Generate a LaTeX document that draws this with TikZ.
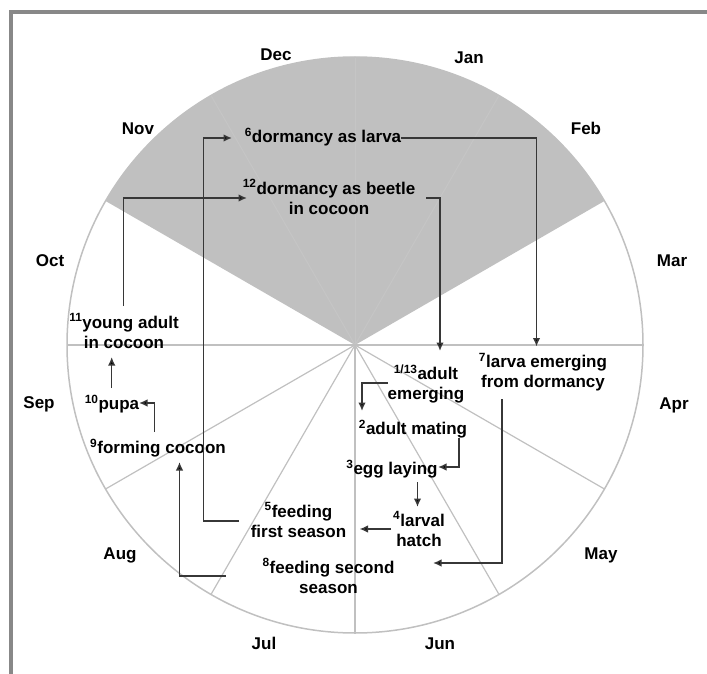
\documentclass[tikz,border=0pt]{standalone}
\usepackage{fontspec}
\setmainfont{Liberation Sans}
\usetikzlibrary{positioning,calc,arrows.meta}
\definecolor{framegray}{RGB}{136,136,136}
\definecolor{wheelgray}{RGB}{192,192,192}
\definecolor{spokegray}{RGB}{197,197,197}
\definecolor{linkgray}{RGB}{55,55,55}
\newcommand\stagenr[1]{\textsuperscript{#1}}

\begin{document}
\begin{tikzpicture}[x=1pt,y=-1pt,
    month/.style={font=\bfseries\fontsize{17}{20}\selectfont, inner sep=0pt, text height=12.4pt, text depth=0pt},
    stage/.style={font=\bfseries\fontsize{17}{20}\selectfont, inner sep=0pt, align=center},
    link/.style={draw=linkgray, line width=1.5pt, -{Latex[length=8.5pt,width=7.5pt,fill=black]}}]
  \useasboundingbox (0,0) rectangle (707,674);
  \draw[framegray, line width=4pt] (11,674) -- (11,12) -- (707,12);

  \coordinate (C) at (355,345);
  \fill[wheelgray] (C) -- ++(-30:288) arc[start angle=-30, end angle=-150, radius=288] -- cycle;
  \foreach \a in {-60,-90,-120}
    \draw[spokegray, line width=1pt] (C) -- ++(\a:288);
  \foreach \a in {0,30,...,180}
    \draw[wheelgray, line width=1.2pt] (C) -- ++(\a:288);
  \draw[wheelgray, line width=1.5pt] (C) circle[radius=288];

  \node[month] (dec) at (276,54) {Dec};
  \node[month] (jan) at (469,57) {Jan};
  \node[month] (nov) at (138,128) {Nov};
  \node[month] (feb) at (586,128) {Feb};
  \node[month] (oct) at (50,260) {Oct};
  \node[month] (mar) at (672,260) {Mar};
  \node[month] (sep) at (39,402) {Sep};
  \node[month] (apr) at (674,403) {Apr};
  \node[month] (aug) at (120,553) {Aug};
  \node[month] (may) at (601,553) {May};
  \node[month] (jul) at (264,643) {Jul};
  \node[month] (jun) at (440,643) {Jun};

  \node[stage] (larva6) at (323,137) {\stagenr{6}dormancy as larva};
  \node[stage] (beetle12) at (329,197) {\stagenr{12}dormancy as beetle\\in cocoon};
  \node[stage] (young11) at (124,331) {\stagenr{11}young adult\\in cocoon};
  \node[stage] (pupa10) at (112,404) {\stagenr{10}pupa};
  \node[stage] (cocoon9) at (158,448) {\stagenr{9}forming cocoon};
  \node[stage] (emerge1) at (426,384) {\stagenr{1/13}adult\\emerging};
  \node[stage] (emerge7) at (543,372) {\stagenr{7}larva emerging\\from dormancy};
  \node[stage] (mating2) at (413,429) {\stagenr{2}adult mating};
  \node[stage] (egg3) at (392,469) {\stagenr{3}egg laying};
  \node[stage] (hatch4) at (419,529) {\stagenr{4}larval\\hatch};
  \node[stage] (first5) at (298.5,520) {\stagenr{5}feeding\\first season};
  \node[stage] (second8) at (328.5,576) {\stagenr{8}feeding second\\season};

  \draw[link] ($(beetle12)+(97,1)$) -| ($(emerge1)+(14,-33)$);
  \draw[link] ($(larva6)+(78,1)$) -| ($(emerge7)+(-6.5,-25.5)$);
  \draw[link] ($(emerge1)+(-38,-1)$) -| ($(mating2)+(-51,-18)$);
  \draw[link] ($(mating2)+(46,9)$) |- ($(egg3)+(46,-2)$);
  \draw[link] ($(egg3)+(25.5,13)$) -- ($(hatch4)+(-1.5,-22)$);
  \draw[link] ($(hatch4)+(-28,0)$) -- ($(first5)+(61,9)$);
  \draw[link] ($(first5)+(-59.5,1)$) -- ++(-35.5,0) |- ($(larva6)+(-91,1)$);
  \draw[link] ($(emerge7)+(-41,27)$) |- ($(second8)+(104.5,-13)$);
  \draw[link] ($(second8)+(-103,0)$) -| ($(cocoon9)+(21.5,14)$);
  \draw[link] ($(cocoon9)+(-3.7,-16)$) |- ($(pupa10)+(27,-1)$);
  \draw[link] ($(pupa10)+(-0.3,-16)$) -- ($(young11)+(-12.3,26)$);
  \draw[link] ($(young11)+(-0.7,-25)$) |- ($(beetle12)+(-82,1)$);
\end{tikzpicture}
\end{document}
